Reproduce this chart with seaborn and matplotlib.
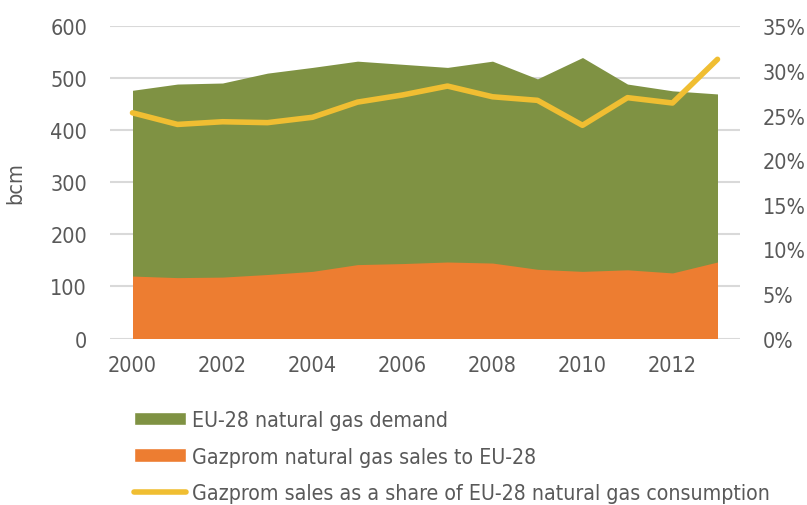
import matplotlib
matplotlib.use("Agg")

import matplotlib.pyplot as plt
import matplotlib.ticker as mticker
from matplotlib.patches import Patch
from matplotlib.lines import Line2D
import seaborn as sns
import pandas as pd

# --- Data ---
years = list(range(2000, 2014))
eu_demand = [477, 489, 491, 510, 521, 533, 527, 521, 533, 499, 540, 489, 476, 470]
gazprom_sales = [120, 117, 118, 123, 129, 142, 144, 147, 145, 133, 129, 132, 126, 147]
gazprom_share = [25.3, 24.0, 24.3, 24.2, 24.8, 26.5, 27.3, 28.3, 27.1, 26.7, 23.9, 27.0, 26.4, 31.3]

GREEN = "#7F9243"
ORANGE = "#ED7D31"
YELLOW = "#F0BE32"
TEXT = "#595959"

sns.set_theme(style="white")
plt.rcParams["font.family"] = ["DejaVu Sans"]
plt.rcParams["font.stretch"] = "condensed"
plt.rcParams["text.color"] = TEXT

df = pd.DataFrame({"year": years, "demand": eu_demand,
                   "sales": gazprom_sales, "share": gazprom_share})

fig = plt.figure(figsize=(8.07, 5.06), dpi=100)
ax = fig.add_axes([110 / 807, (506 - 339.5) / 506, 630 / 807, 312.2 / 506])

# demand drawn from zero, Gazprom sales over it (not stacked)
ax.fill_between(df["year"], 0, df["demand"], color=GREEN, linewidth=0, zorder=2)
ax.fill_between(df["year"], 0, df["sales"], color=ORANGE, linewidth=0, zorder=3)

ax.set_ylim(0, 600)
ax.set_xlim(1999.5, 2013.5)
ax.set_yticks(range(0, 601, 100))
ax.set_xticks(range(2000, 2013, 2))
ax.yaxis.grid(True, color="#D9D9D9", linewidth=1.5, zorder=0)
ax.set_axisbelow(True)
for s in ax.spines.values():
    s.set_visible(False)
ax.tick_params(axis="both", length=0, labelsize=15.5, labelcolor=TEXT)
ax.tick_params(axis="y", pad=16.5)
ax.tick_params(axis="x", pad=12)
ax.set_ylabel("bcm", fontsize=15.5, color=TEXT)
ax.yaxis.set_label_coords(-0.151, 0.5)
ax.yaxis.label.set_va("center")
ax.set_xlabel("")

ax2 = ax.twinx()
sns.lineplot(data=df, x="year", y="share", ax=ax2, color=YELLOW,
             linewidth=4, solid_capstyle="round", zorder=4)
ax2.set_ylim(0, 35)
ax2.set_yticks(range(0, 36, 5))
ax2.yaxis.set_major_formatter(mticker.FuncFormatter(lambda v, _: f"{v:.0f}%"))
ax2.set_ylabel("")
ax2.set_xlabel("")
for s in ax2.spines.values():
    s.set_visible(False)
ax2.tick_params(axis="y", length=0, labelsize=15.5, labelcolor=TEXT, pad=16.5)

handles = [
    Patch(facecolor=GREEN, label="EU-28 natural gas demand"),
    Patch(facecolor=ORANGE, label="Gazprom natural gas sales to EU-28"),
    Line2D([0], [0], color=YELLOW, linewidth=4, solid_capstyle="round",
           label="Gazprom sales as a share of EU-28 natural gas consumption"),
]
fig.legend(handles=handles, loc="upper left", bbox_to_anchor=(134 / 807, 1 - 411 / 506),
           frameon=False, fontsize=15.3, handlelength=2.45, handleheight=0.6,
           handletextpad=0.29, labelspacing=0.78, borderpad=0, borderaxespad=0,
           labelcolor=TEXT)

fig.savefig("out.png", dpi=100)
